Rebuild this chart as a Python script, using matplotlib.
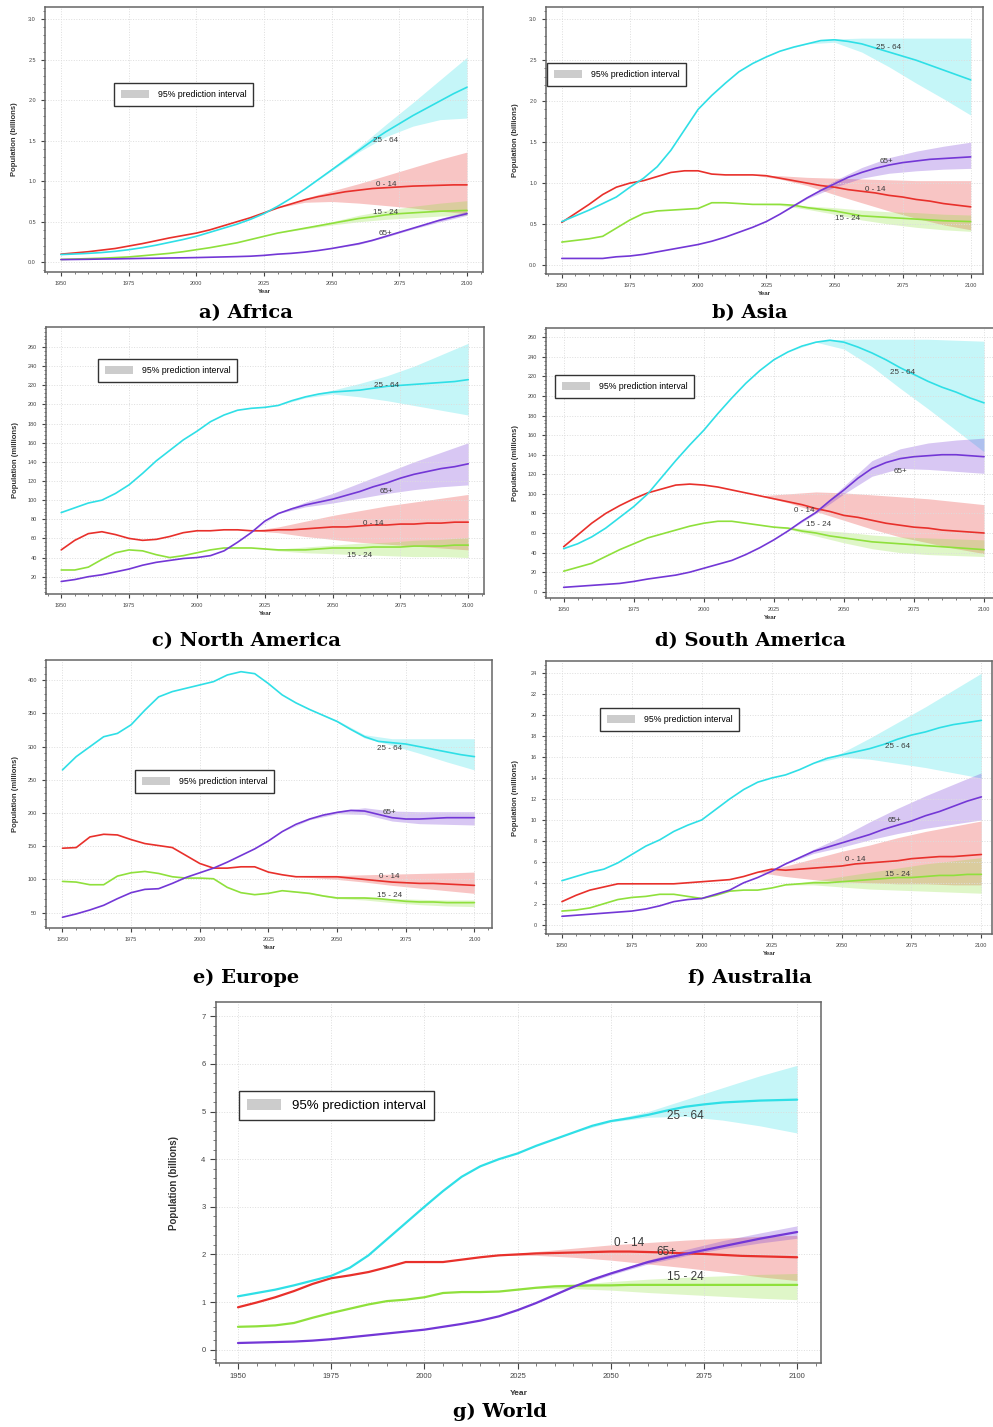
import numpy as np
import matplotlib
matplotlib.use('Agg')
import matplotlib.pyplot as plt
from matplotlib.patches import Patch
from matplotlib.ticker import MultipleLocator, AutoMinorLocator, FormatStrFormatter

plt.rcParams['font.family'] = ['Liberation Sans', 'DejaVu Sans']

W, H = 993, 1427

# x values: every 5 years for history+median, every 10 years for the 95% band
years = np.arange(1950, 2101, 5)
band_years = np.arange(2020, 2101, 10)
xticks = [1950, 1975, 2000, 2025, 2050, 2075, 2100]
groups = ['0 - 14', '15 - 24', '25 - 64', '65+']

# ---- Africa (billions)
af_0_14 = [0.10, 0.115, 0.13, 0.15, 0.17, 0.20, 0.23, 0.265, 0.30, 0.33, 0.36, 0.40, 0.45, 0.50, 0.55, 0.61,
           0.67, 0.72, 0.77, 0.81, 0.84, 0.87, 0.89, 0.91, 0.92, 0.93, 0.94, 0.945, 0.95, 0.955, 0.955]
af_15_24 = [0.035, 0.04, 0.045, 0.05, 0.058, 0.066, 0.08, 0.095, 0.11, 0.13, 0.155, 0.18, 0.21, 0.24, 0.28, 0.32,
            0.36, 0.39, 0.42, 0.45, 0.48, 0.51, 0.54, 0.56, 0.585, 0.60, 0.61, 0.62, 0.63, 0.635, 0.64]
af_25_64 = [0.095, 0.102, 0.11, 0.12, 0.135, 0.155, 0.18, 0.21, 0.245, 0.28, 0.32, 0.37, 0.42, 0.47, 0.53, 0.60,
            0.69, 0.79, 0.90, 1.02, 1.14, 1.26, 1.38, 1.50, 1.61, 1.71, 1.81, 1.90, 1.99, 2.08, 2.16]
af_65 = [0.033, 0.035, 0.037, 0.04, 0.042, 0.045, 0.048, 0.05, 0.053, 0.055, 0.058, 0.062, 0.066, 0.07, 0.075, 0.085,
         0.10, 0.11, 0.125, 0.145, 0.17, 0.20, 0.23, 0.27, 0.32, 0.37, 0.42, 0.47, 0.52, 0.56, 0.60]
af_0_14_lo = [0.55, 0.67, 0.74, 0.75, 0.73, 0.70, 0.67, 0.63, 0.60]
af_0_14_hi = [0.55, 0.67, 0.79, 0.88, 0.97, 1.07, 1.17, 1.27, 1.36]
af_15_24_lo = [0.28, 0.36, 0.41, 0.46, 0.50, 0.53, 0.55, 0.57, 0.58]
af_15_24_hi = [0.28, 0.36, 0.43, 0.50, 0.58, 0.64, 0.69, 0.73, 0.76]
af_25_64_lo = [0.53, 0.69, 0.90, 1.13, 1.36, 1.55, 1.68, 1.76, 1.78]
af_25_64_hi = [0.53, 0.69, 0.90, 1.16, 1.42, 1.70, 1.97, 2.25, 2.53]
af_65_lo = [0.075, 0.10, 0.125, 0.17, 0.22, 0.31, 0.41, 0.50, 0.58]
af_65_hi = [0.075, 0.10, 0.125, 0.17, 0.24, 0.33, 0.43, 0.54, 0.63]

# ---- Asia (billions)
as_0_14 = [0.52, 0.63, 0.74, 0.86, 0.95, 1.00, 1.03, 1.08, 1.13, 1.15, 1.15, 1.11, 1.10, 1.10, 1.10, 1.09,
           1.06, 1.03, 1.00, 0.97, 0.95, 0.92, 0.90, 0.88, 0.85, 0.83, 0.80, 0.78, 0.75, 0.73, 0.71]
as_15_24 = [0.28, 0.30, 0.32, 0.35, 0.45, 0.55, 0.63, 0.66, 0.67, 0.68, 0.69, 0.76, 0.76, 0.75, 0.74, 0.74,
            0.74, 0.73, 0.70, 0.68, 0.66, 0.63, 0.60, 0.59, 0.58, 0.57, 0.56, 0.55, 0.54, 0.535, 0.53]
as_25_64 = [0.53, 0.60, 0.67, 0.75, 0.83, 0.95, 1.06, 1.20, 1.40, 1.65, 1.90, 2.07, 2.22, 2.36, 2.46, 2.54,
            2.61, 2.66, 2.70, 2.74, 2.75, 2.73, 2.70, 2.65, 2.60, 2.55, 2.50, 2.44, 2.38, 2.32, 2.26]
as_65 = [0.08, 0.08, 0.08, 0.08, 0.10, 0.11, 0.13, 0.16, 0.19, 0.22, 0.25, 0.29, 0.34, 0.40, 0.46, 0.53,
         0.62, 0.72, 0.82, 0.91, 0.99, 1.07, 1.13, 1.18, 1.22, 1.25, 1.27, 1.29, 1.30, 1.31, 1.32]
as_0_14_lo = [1.10, 1.05, 0.97, 0.86, 0.76, 0.66, 0.57, 0.49, 0.43]
as_0_14_hi = [1.10, 1.09, 1.07, 1.06, 1.05, 1.04, 1.03, 1.03, 1.03]
as_15_24_lo = [0.74, 0.73, 0.68, 0.62, 0.55, 0.50, 0.46, 0.43, 0.41]
as_15_24_hi = [0.74, 0.75, 0.72, 0.70, 0.67, 0.65, 0.64, 0.62, 0.61]
as_25_64_lo = [2.46, 2.61, 2.70, 2.72, 2.60, 2.42, 2.22, 2.03, 1.83]
as_25_64_hi = [2.46, 2.61, 2.71, 2.76, 2.77, 2.77, 2.77, 2.77, 2.77]
as_65_lo = [0.46, 0.62, 0.81, 0.95, 1.06, 1.12, 1.15, 1.17, 1.18]
as_65_hi = [0.46, 0.62, 0.83, 1.03, 1.19, 1.31, 1.39, 1.45, 1.50]

# ---- North America (millions)
na_0_14 = [48, 58, 65, 67, 64, 60, 58, 59, 62, 66, 68, 68, 69, 69, 68, 68,
           69, 69, 70, 71, 72, 72, 73, 74, 74, 75, 75, 76, 76, 77, 77]
na_15_24 = [27, 27, 30, 38, 45, 48, 47, 43, 40, 42, 45, 48, 50, 50, 50, 49,
            48, 48, 48, 49, 50, 50, 50, 51, 51, 51, 52, 52, 52, 53, 53]
na_25_64 = [87, 92, 97, 100, 107, 116, 128, 141, 152, 163, 172, 182, 189, 194, 196, 197,
            199, 204, 208, 211, 213, 214, 215, 217, 219, 220, 221, 222, 223, 224, 226]
na_65 = [15, 17, 20, 22, 25, 28, 32, 35, 37, 39, 40, 42, 47, 56, 66, 78,
         86, 91, 95, 98, 101, 105, 109, 114, 118, 123, 127, 130, 133, 135, 138]
na_0_14_lo = [68, 66, 62, 59, 56, 54, 52, 50, 48]
na_0_14_hi = [68, 72, 78, 84, 89, 94, 98, 102, 106]
na_15_24_lo = [50, 47, 45, 44, 43, 42, 41, 41, 40]
na_15_24_hi = [50, 49, 51, 53, 55, 56, 58, 59, 61]
na_25_64_lo = [196, 199, 207, 211, 208, 204, 199, 194, 189]
na_25_64_hi = [196, 199, 209, 215, 222, 230, 240, 252, 264]
na_65_lo = [66, 86, 93, 97, 102, 107, 111, 114, 116]
na_65_hi = [66, 87, 98, 107, 118, 129, 140, 150, 160]

# ---- South America (millions)
sa_0_14 = [46, 58, 70, 80, 88, 95, 101, 105, 109, 110, 109, 107, 104, 101, 98, 95,
           92, 89, 85, 82, 78, 76, 73, 70, 68, 66, 65, 63, 62, 61, 60]
sa_15_24 = [21, 25, 29, 36, 43, 49, 55, 59, 63, 67, 70, 72, 72, 70, 68, 66,
            65, 62, 60, 57, 55, 53, 51, 50, 49, 48, 47, 46, 45, 44, 43]
sa_25_64 = [44, 49, 56, 65, 76, 87, 100, 117, 134, 150, 165, 182, 198, 213, 226, 237,
            245, 251, 255, 257, 255, 250, 244, 237, 229, 222, 215, 209, 204, 198, 193]
sa_65 = [4.5, 5.5, 6.5, 7.5, 8.5, 10.5, 13, 15, 17, 20, 24, 28, 32, 38, 45, 53,
         62, 72, 81, 93, 104, 116, 126, 132, 136, 138, 139, 140, 140, 139, 138]
sa_0_14_lo = [98, 91, 82, 73, 64, 56, 50, 44, 39]
sa_0_14_hi = [98, 100, 102, 101, 99, 97, 95, 92, 89]
sa_15_24_lo = [68, 64, 57, 50, 44, 40, 38, 37, 36]
sa_15_24_hi = [68, 66, 63, 61, 58, 56, 55, 54, 53]
sa_25_64_lo = [226, 245, 255, 248, 230, 208, 187, 165, 143]
sa_25_64_hi = [226, 245, 256, 258, 258, 258, 258, 257, 256]
sa_65_lo = [45, 62, 80, 100, 118, 126, 125, 123, 121]
sa_65_hi = [45, 62, 82, 108, 134, 146, 152, 155, 157]

# ---- Europe (millions)
eu_0_14 = [147, 148, 164, 168, 167, 160, 154, 151, 148, 136, 124, 117, 117, 119, 119, 111,
           107, 104, 104, 104, 104, 102, 100, 98, 96, 95, 94, 94, 93, 92, 91]
eu_15_24 = [97, 96, 92, 92, 105, 110, 112, 109, 104, 102, 102, 101, 88, 80, 77, 79,
            83, 81, 79, 75, 72, 72, 72, 71, 69, 67, 66, 66, 65, 65, 65]
eu_25_64 = [265, 285, 300, 315, 320, 333, 355, 375, 383, 388, 393, 398, 408, 413, 410, 395,
            378, 366, 356, 347, 338, 326, 315, 308, 306, 304, 300, 296, 292, 288, 285]
eu_65 = [43, 48, 54, 61, 71, 80, 85, 86, 94, 103, 110, 117, 126, 136, 146, 158,
         172, 183, 191, 197, 201, 204, 203, 198, 193, 191, 191, 192, 193, 193, 193]
eu_0_14_lo = [119, 107, 103, 100, 96, 91, 87, 83, 79]
eu_0_14_hi = [119, 107, 105, 106, 107, 108, 109, 110, 111]
eu_15_24_lo = [77, 83, 78, 71, 69, 65, 62, 60, 59]
eu_15_24_hi = [77, 83, 80, 74, 74, 71, 70, 69, 69]
eu_25_64_lo = [410, 378, 356, 337, 313, 302, 290, 277, 265]
eu_25_64_hi = [410, 378, 357, 340, 318, 312, 312, 312, 312]
eu_65_lo = [146, 172, 190, 199, 198, 188, 184, 183, 182]
eu_65_hi = [146, 172, 192, 203, 208, 203, 202, 202, 202]

# ---- Australia (millions)
au_0_14 = [2.2, 2.8, 3.3, 3.6, 3.9, 3.9, 3.9, 3.9, 3.9, 4.0, 4.1, 4.2, 4.3, 4.6, 5.0, 5.3,
           5.2, 5.3, 5.4, 5.5, 5.6, 5.8, 5.9, 6.0, 6.1, 6.3, 6.4, 6.5, 6.5, 6.6, 6.7]
au_15_24 = [1.3, 1.4, 1.6, 2.0, 2.4, 2.6, 2.7, 2.9, 2.9, 2.7, 2.5, 2.8, 3.2, 3.3, 3.3, 3.5,
            3.8, 3.9, 4.0, 4.0, 4.1, 4.2, 4.3, 4.4, 4.5, 4.5, 4.6, 4.7, 4.7, 4.8, 4.8]
au_25_64 = [4.2, 4.6, 5.0, 5.3, 5.9, 6.7, 7.5, 8.1, 8.9, 9.5, 10.0, 11.0, 12.0, 12.9, 13.6, 14.0,
            14.3, 14.8, 15.4, 15.9, 16.2, 16.5, 16.8, 17.2, 17.7, 18.1, 18.4, 18.8, 19.1, 19.3, 19.5]
au_65 = [0.8, 0.9, 1.0, 1.1, 1.2, 1.3, 1.5, 1.8, 2.2, 2.4, 2.5, 2.9, 3.3, 4.0, 4.5, 5.1,
         5.8, 6.4, 7.0, 7.4, 7.8, 8.2, 8.6, 9.1, 9.5, 9.9, 10.4, 10.8, 11.3, 11.8, 12.2]
au_0_14_lo = [5.0, 4.6, 4.3, 4.1, 4.0, 3.9, 3.9, 3.8, 3.8]
au_0_14_hi = [5.0, 5.6, 6.3, 7.0, 7.6, 8.3, 8.9, 9.4, 9.9]
au_15_24_lo = [3.3, 3.8, 3.8, 3.6, 3.4, 3.3, 3.2, 3.1, 3.0]
au_15_24_hi = [3.3, 3.8, 4.2, 4.6, 5.0, 5.4, 5.8, 6.1, 6.4]
au_25_64_lo = [13.6, 14.3, 15.4, 16.0, 15.8, 15.4, 15.0, 14.5, 14.0]
au_25_64_hi = [13.6, 14.3, 15.4, 16.4, 17.8, 19.3, 20.8, 22.4, 24.0]
au_65_lo = [4.5, 5.8, 6.8, 7.4, 8.1, 8.7, 9.2, 9.6, 10.0]
au_65_hi = [4.5, 5.8, 7.2, 8.4, 9.8, 11.1, 12.3, 13.4, 14.5]

# ---- World (billions)
wd_0_14 = [0.89, 0.99, 1.10, 1.23, 1.38, 1.50, 1.56, 1.63, 1.73, 1.84, 1.84, 1.84, 1.89, 1.94, 1.98, 2.00,
           2.02, 2.03, 2.04, 2.05, 2.06, 2.06, 2.05, 2.04, 2.02, 2.01, 1.99, 1.97, 1.96, 1.95, 1.94]
wd_15_24 = [0.48, 0.49, 0.51, 0.56, 0.67, 0.77, 0.86, 0.95, 1.02, 1.05, 1.10, 1.19, 1.21, 1.21, 1.22, 1.26,
            1.30, 1.33, 1.34, 1.35, 1.35, 1.36, 1.36, 1.36, 1.36, 1.36, 1.36, 1.36, 1.36, 1.36, 1.36]
wd_25_64 = [1.12, 1.19, 1.26, 1.35, 1.45, 1.55, 1.72, 1.98, 2.32, 2.66, 3.00, 3.33, 3.63, 3.85, 4.00, 4.12,
            4.28, 4.42, 4.56, 4.70, 4.80, 4.86, 4.93, 5.02, 5.10, 5.15, 5.19, 5.21, 5.23, 5.24, 5.25]
wd_65 = [0.14, 0.15, 0.16, 0.17, 0.19, 0.22, 0.26, 0.30, 0.34, 0.38, 0.42, 0.48, 0.54, 0.61, 0.70, 0.83,
         0.98, 1.15, 1.32, 1.47, 1.60, 1.72, 1.84, 1.93, 2.01, 2.09, 2.17, 2.25, 2.33, 2.40, 2.47]
wd_0_14_lo = [1.98, 1.98, 1.94, 1.88, 1.80, 1.72, 1.63, 1.53, 1.45]
wd_0_14_hi = [1.98, 2.06, 2.13, 2.20, 2.25, 2.30, 2.34, 2.38, 2.40]
wd_15_24_lo = [1.22, 1.29, 1.28, 1.25, 1.20, 1.16, 1.12, 1.08, 1.05]
wd_15_24_hi = [1.22, 1.31, 1.37, 1.43, 1.48, 1.52, 1.55, 1.58, 1.60]
wd_25_64_lo = [4.00, 4.28, 4.56, 4.78, 4.88, 4.90, 4.82, 4.70, 4.55]
wd_25_64_hi = [4.00, 4.28, 4.56, 4.82, 5.00, 5.25, 5.50, 5.75, 5.97]
wd_65_lo = [0.70, 0.98, 1.31, 1.57, 1.80, 1.97, 2.12, 2.24, 2.34]
wd_65_hi = [0.70, 0.98, 1.33, 1.63, 1.88, 2.10, 2.29, 2.45, 2.60]

colors = {'0 - 14': '#e8302b', '15 - 24': '#8fe03c', '25 - 64': '#2fdfe6', '65+': '#7337d6'}

#layout of every panel in pixels: frame (left, top, right, bottom), legend top-left corner
panels = [
    dict(title='a) Africa', tpos=(246, 313), frame=(45, 7, 483, 272), xlim=(1944.1, 2105.9),
         ylim=(-0.12, 3.15), yticks=np.arange(0, 3.01, 0.5), yfmt='%.1f', unit='billions',
         lines=[af_0_14, af_15_24, af_25_64, af_65],
         bands=[(af_0_14_lo, af_0_14_hi), (af_15_24_lo, af_15_24_hi), (af_25_64_lo, af_25_64_hi), (af_65_lo, af_65_hi)],
         labels=[(2070, 0.955), (2070, 0.62), (2070, 1.50), (2070, 0.35)], legend=(114, 83)),
    dict(title='b) Asia', tpos=(750, 313), frame=(546, 7, 983, 274), xlim=(1944.2, 2104.5),
         ylim=(-0.11, 3.15), yticks=np.arange(0, 3.01, 0.5), yfmt='%.1f', unit='billions',
         lines=[as_0_14, as_15_24, as_25_64, as_65],
         bands=[(as_0_14_lo, as_0_14_hi), (as_15_24_lo, as_15_24_hi), (as_25_64_lo, as_25_64_hi), (as_65_lo, as_65_hi)],
         labels=[(2065, 0.92), (2055, 0.57), (2070, 2.66), (2069, 1.26)], legend=(547, 63)),
    dict(title='c) North America', tpos=(246, 641), frame=(46, 327, 484, 594), xlim=(1944.4, 2105.8),
         ylim=(1.9, 281), yticks=np.arange(20, 261, 20), yfmt='%d', unit='millions',
         lines=[na_0_14, na_15_24, na_25_64, na_65],
         bands=[(na_0_14_lo, na_0_14_hi), (na_15_24_lo, na_15_24_hi), (na_25_64_lo, na_25_64_hi), (na_65_lo, na_65_hi)],
         labels=[(2065, 76), (2060, 42), (2070, 220), (2070, 109)], legend=(98, 359)),
    dict(title='d) South America', tpos=(750, 641), frame=(546, 328, 995, 598), xlim=(1943.7, 2103.9),
         ylim=(-6.4, 269.5), yticks=np.arange(0, 261, 20), yfmt='%d', unit='millions',
         lines=[sa_0_14, sa_15_24, sa_25_64, sa_65],
         bands=[(sa_0_14_lo, sa_0_14_hi), (sa_15_24_lo, sa_15_24_hi), (sa_25_64_lo, sa_25_64_hi), (sa_65_lo, sa_65_hi)],
         labels=[(2036, 83), (2041, 69), (2071, 224), (2070, 123)], legend=(555, 375)),
    dict(title='e) Europe', tpos=(246, 978), frame=(46, 660, 492, 928), xlim=(1944.0, 2106.4),
         ylim=(26.8, 430.6), yticks=np.arange(50, 401, 50), yfmt='%d', unit='millions',
         lines=[eu_0_14, eu_15_24, eu_25_64, eu_65],
         bands=[(eu_0_14_lo, eu_0_14_hi), (eu_15_24_lo, eu_15_24_hi), (eu_25_64_lo, eu_25_64_hi), (eu_65_lo, eu_65_hi)],
         labels=[(2069, 104), (2069, 76), (2069, 298), (2069, 201)], legend=(135, 770)),
    dict(title='f) Australia', tpos=(750, 978), frame=(546, 661, 992, 934), xlim=(1944.3, 2103.8),
         ylim=(-0.89, 25.17), yticks=np.arange(0, 24.1, 2), yfmt='%d', unit='millions',
         lines=[au_0_14, au_15_24, au_25_64, au_65],
         bands=[(au_0_14_lo, au_0_14_hi), (au_15_24_lo, au_15_24_hi), (au_25_64_lo, au_25_64_hi), (au_65_lo, au_65_hi)],
         labels=[(2055, 6.2), (2070, 4.8), (2070, 17.0), (2069, 9.9)], legend=(600, 708)),
    dict(title='g) World', tpos=(500, 1412), frame=(216, 1002, 821, 1363), xlim=(1944.1, 2106.4),
         ylim=(-0.28, 7.3), yticks=np.arange(0, 7.1, 1), yfmt='%d', unit='billions',
         lines=[wd_0_14, wd_15_24, wd_25_64, wd_65],
         bands=[(wd_0_14_lo, wd_0_14_hi), (wd_15_24_lo, wd_15_24_hi), (wd_25_64_lo, wd_25_64_hi), (wd_65_lo, wd_65_hi)],
         labels=[(2055, 2.24), (2070, 1.53), (2070, 4.9), (2065, 2.06)], legend=(239, 1091), big=True),
]


def draw_panel(fig, p):
    l, t, r, b = p['frame']
    ax = fig.add_axes([l / W, 1 - b / H, (r - l) / W, (b - t) / H])
    big = p.get('big', False)
    fs_tick = 5.5 if big else 4.0
    fs_lab = 8.5 if big else 5.8
    lw = 1.6 if big else 1.2

    for g, line, (lo, hi) in zip(groups, p['lines'], p['bands']):
        ax.fill_between(band_years, lo, hi, color=colors[g], alpha=0.28, lw=0)
    for g, line in zip(groups, p['lines']):
        ax.plot(years, line, color=colors[g], lw=lw, solid_capstyle='round')
    for g, (x, y) in zip(groups, p['labels']):
        ax.text(x, y, g, fontsize=fs_lab, color='#3a3a3a', ha='center', va='center')

    ax.set_xlim(*p['xlim'])
    ax.set_ylim(*p['ylim'])
    ax.set_xticks(xticks)
    ax.set_yticks(p['yticks'])
    ax.yaxis.set_major_formatter(FormatStrFormatter(p['yfmt']))
    ax.xaxis.set_minor_locator(MultipleLocator(5))
    ax.yaxis.set_minor_locator(AutoMinorLocator(5))
    ax.tick_params(which='major', labelsize=fs_tick, colors='#444', length=4 if big else 3, width=0.8)
    ax.tick_params(which='minor', colors='#666', length=2 if big else 1.5, width=0.6)
    ax.grid(True, which='major', color='#dddddd', linestyle=':', linewidth=0.7)
    for s in ax.spines.values():
        s.set_color('#666666')
        s.set_linewidth(1.1)

    ax.set_xlabel('Year', fontsize=fs_tick + 0.5, color='#333', fontweight='bold')
    ax.xaxis.set_label_coords(0.5, -(27 if big else 17) / (b - t))
    ax.set_ylabel(f'Population ({p["unit"]})', fontsize=fs_tick + 1.5, color='#333', fontweight='bold')
    ax.yaxis.set_label_coords(-(37 if big else 27) / (r - l), 0.5)

    lx, ly = p['legend']
    fs_leg = 9.5 if big else 6.3
    leg = ax.legend(handles=[Patch(facecolor='#cccccc', edgecolor='none')], labels=['95% prediction interval'],
                    loc='upper left', bbox_to_anchor=(lx / W, 1 - ly / H), bbox_transform=fig.transFigure,
                    borderaxespad=0, fancybox=False, edgecolor='#333333', framealpha=1,
                    fontsize=fs_leg, handlelength=2.6 if big else 3.2, handleheight=0.9,
                    borderpad=0.6 if big else 0.8, handletextpad=0.8 if big else 1.0)
    leg.get_frame().set_linewidth(1.0)

    fig.text(p['tpos'][0] / W, 1 - p['tpos'][1] / H, p['title'], ha='center', va='center',
             fontsize=14, fontweight='bold', family='DejaVu Serif')
    return ax


fig = plt.figure(figsize=(W / 100, H / 100), dpi=100)
for p in panels:
    draw_panel(fig, p)

fig.savefig('out.png', dpi=100)
